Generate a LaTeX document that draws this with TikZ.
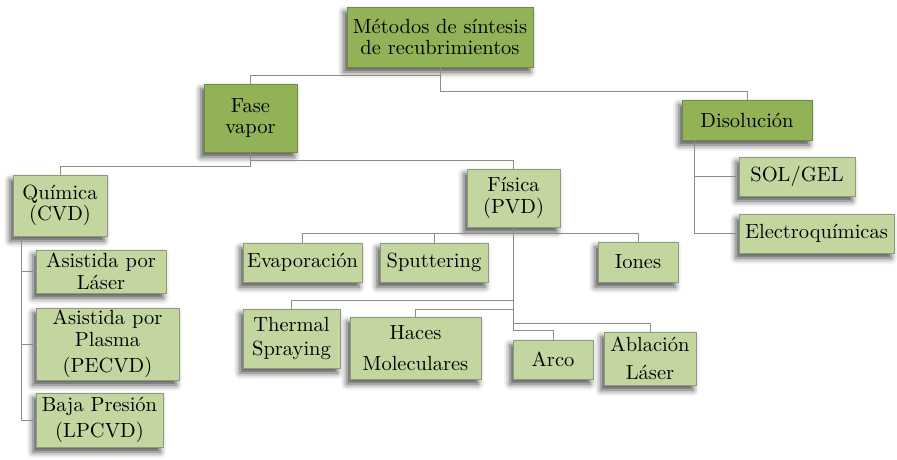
\documentclass[tikz,border=0pt]{standalone}
\usepackage{fontspec}
\setmainfont{lmroman10-regular}[Extension=.otf]
\usetikzlibrary{shadows.blur}
\definecolor{darkg}{HTML}{92B258}
\definecolor{darkb}{HTML}{6E8C40}
\definecolor{lightg}{HTML}{C3D6A0}
\definecolor{lightb}{HTML}{8E9B7A}
\definecolor{connc}{HTML}{8E8E84}
\tikzset{
  boxbase/.style={rectangle, inner sep=0pt, align=center,
    font=\fontsize{20.5}{21.5}\selectfont, line width=0.8pt,
    blur shadow={shadow xshift=-3pt, shadow yshift=-5pt, shadow blur radius=6pt, shadow opacity=70}},
  hibox/.style={boxbase, fill=darkg, draw=darkb},
  lobox/.style={boxbase, fill=lightg, draw=lightb},
  wire/.style={draw=connc, line width=1pt},
  sz/.style 2 args={minimum width=#1pt, minimum height=#2pt}
}
\begin{document}
\begin{tikzpicture}[x=1pt,y=-1pt]
\useasboundingbox (0,0) rectangle (897,459);
% nodes
\node[hibox, sz={186}{60}] (top) at (440,37) {Métodos de síntesis\\de recubrimientos};
\node[hibox, sz={93}{68}] (fase) at (250.5,118) {Fase\\vapor};
\node[hibox, sz={130}{40}] (dis) at (747,120) {Disolución};
\node[lobox, sz={94}{61}] (qui) at (60,205.5) {Química\\(CVD)};
\node[lobox, sz={93}{58}] (fis) at (513.5,198) {Física\\(PVD)};
\node[lobox, sz={116}{39}] (sol) at (797,176.5) {SOL/GEL};
\node[lobox, sz={155}{39}] (ele) at (816.5,233.5) {Electroquímicas};
\node[lobox, sz={119}{39}] (eva) at (302.5,262.5) {Evaporación};
\node[lobox, sz={108}{39}] (spu) at (434,262.5) {Sputtering};
\node[lobox, sz={80}{40}] (ion) at (638,262) {Iones};
\node[lobox, sz={130}{43}] (las) at (101,271.5) {Asistida por\\Láser};
\node[lobox, sz={143}{72}] (pla) at (107.5,344) {Asistida por\\Plasma\\[5pt](PECVD)};
\node[lobox, sz={127}{54}] (baj) at (99.5,420) {Baja Presión\\[4pt](LPCVD)};
\node[lobox, sz={97}{59}] (the) at (291.5,338.5) {Thermal\\[3pt]Spraying};
\node[lobox, sz={131}{62}] (hac) at (415.5,348) {Haces\\[9pt]Moleculares};
\node[lobox, sz={80}{39}] (arc) at (553,359.5) {Arco};
\node[lobox, sz={92}{53}] (abl) at (650,358.5) {Ablación\\[7pt]Láser};
% connectors
\draw[wire] (top.south) -- ++(0,8) -| (fase.north);
\draw[wire] (top.south) -- ++(0,24) -| (dis.north);
\draw[wire] (fase.south) -- ++(0,8) -| (fis.north);
\draw[wire] (fase.south) -- ++(0,14) -| (qui.north);
\draw[wire] ([xshift=9pt]qui.south west) |- (las.west);
\draw[wire] ([xshift=9pt]qui.south west) |- (pla.west);
\draw[wire] ([xshift=9pt]qui.south west) |- (baj.west);
\draw[wire] ([xshift=13pt]dis.south west) |- (sol.west);
\draw[wire] ([xshift=13pt]dis.south west) |- (ele.west);
\draw[wire] (fis.south) -- ++(0,6) -| (eva.north);
\draw[wire] (fis.south) -- ++(0,6) -| (spu.north);
\draw[wire] (fis.south) -- ++(0,6) -| (ion.north);
\draw[wire] (fis.south) -- ++(0,73) -| (the.north);
\draw[wire] (fis.south) -- ++(0,82) -| (hac.north);
\draw[wire] (fis.south) -- ++(0,96) -| (abl.north);
\draw[wire] (fis.south) -- ++(0,103) -| (arc.north);
\end{tikzpicture}
\end{document}
